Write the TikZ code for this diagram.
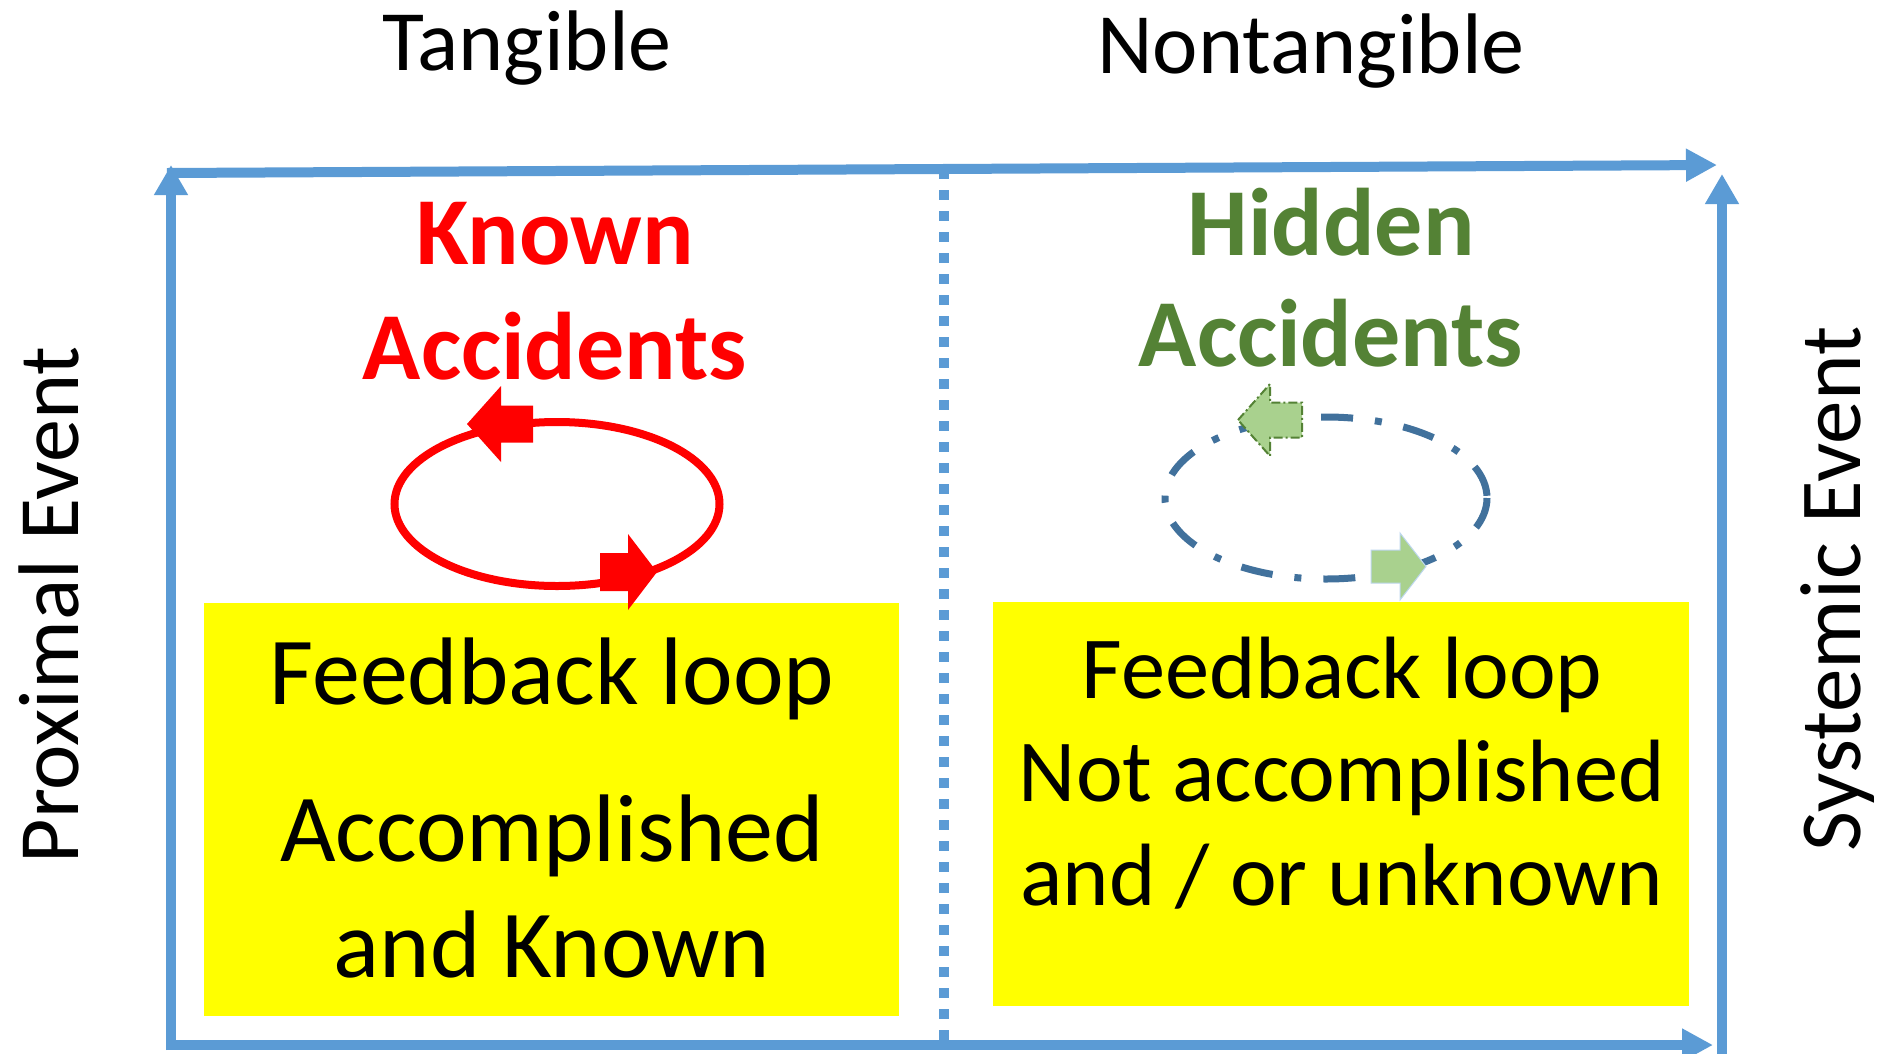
\documentclass[tikz,border=0pt]{standalone}
\usepackage{fontspec}
\setmainfont{Carlito}
\usetikzlibrary{arrows.meta}
\definecolor{frameblue}{HTML}{5B9BD5}
\definecolor{loopblue}{HTML}{41719C}
\definecolor{hidgreen}{HTML}{548235}
\definecolor{lightgreen}{HTML}{A9D18E}
\definecolor{paleblue}{HTML}{BDD7EE}
\definecolor{boxyellow}{HTML}{FFFF00}
\begin{document}
\begin{tikzpicture}[x=1pt,y=-1pt,
  frameline/.style={line width=10pt, draw=frameblue},
  hhead/.style={-{Triangle[length=31pt,width=31pt]}},
  vhead/.style={-{Triangle[length=30pt,width=32pt]}},
  head/.style={anchor=base, font=\fontsize{86}{100}\selectfont},
  title/.style={anchor=base, font=\fontsize{96}{114}\bfseries\selectfont},
  boxtext/.style={anchor=base, font=\fontsize{96}{114}\selectfont},
  boxtextr/.style={anchor=base, font=\fontsize{88.5}{104}\selectfont},
  ybox/.style={fill=boxyellow, draw=none}
]
\useasboundingbox (0,0) rectangle (1880,1053);
\fill[white] (0,0) rectangle (1880,1053);

% yellow boxes
\fill[ybox] (204,603) rectangle (899,1016);
\fill[ybox] (993,602) rectangle (1689,1006);

% frame coordinates
\coordinate (lb) at (171,1050);
\coordinate (lt) at (171,165);
\coordinate (tl) at (167,173);
\coordinate (tr) at (1717,165);
\coordinate (bl) at (166,1045);
\coordinate (br) at (1713,1045);
\coordinate (rb) at (1722,1060);
\coordinate (rt) at (1722,174);
\coordinate (dt) at (944,169);
\coordinate (db) at (944,1040);

% dotted divider
\draw[draw=frameblue, line width=10pt, dash pattern=on 10pt off 11pt] (dt) -- (db);

% frame arrows
\draw[frameline, hhead] (tl) -- (tr);
\draw[frameline, hhead] (bl) -- (br);
\draw[frameline, vhead] (lb) -- (lt);
\draw[frameline, vhead] (rb) -- (rt);

% headings
\node[head] (tangible) at (527,70) {Tangible};
\node[head] (nontangible) at (1311,73) {Nontangible};
\node[head, rotate=90] (proximal) at (78,605) {Proximal Event};
\node[head, font=\fontsize{87}{100}\selectfont, rotate=90] (systemic) at (1860,589) {Systemic Event};

% titles
\node[title, text=red] (known) at (555,264) {Known};
\node[title, text=red] (acc1) at (555,379) {Accidents};
\node[title, text=hidgreen] (hidden) at (1331,255) {Hidden};
\node[title, text=hidgreen] (acc2) at (1331,366) {Accidents};

% left loop
\coordinate (c1) at (557,504);
\draw[red, line width=8pt] (c1) ellipse [x radius=162.5, y radius=82];
\fill[red] (467,424) -- (501,386) -- (501,405.5) -- (533,405.5) -- (533,442.5)
  -- (501,442.5) -- (501,462) -- cycle;
\fill[red] (657,572) -- (628,534) -- (628,553) -- (600,553) -- (600,591)
  -- (628,591) -- (628,610) -- cycle;

% right loop
\coordinate (c2) at (1326,498);
\draw[loopblue, line width=7pt, dash pattern=on 32pt off 22pt on 7pt off 22pt]
  (c2) ellipse [x radius=161, y radius=81];
\filldraw[fill=lightgreen, draw=hidgreen, line width=2pt,
  dash pattern=on 9pt off 3pt on 2pt off 3pt]
  (1238,420) -- (1270,384) -- (1270,402.5) -- (1302,402.5) -- (1302,437.5)
  -- (1270,437.5) -- (1270,456) -- cycle;
\filldraw[fill=lightgreen, draw=paleblue, line width=1pt]
  (1426,566.5) -- (1400,533) -- (1400,550) -- (1371,550) -- (1371,583)
  -- (1400,583) -- (1400,600) -- cycle;

% box texts
\node[boxtext] (fl1) at (552,704) {Feedback loop};
\node[boxtext] (ac1) at (552,861) {Accomplished};
\node[boxtext] (ak1) at (552,977) {and Known};
\node[boxtextr] (fl2) at (1342,698) {Feedback loop};
\node[boxtextr] (na2) at (1342,801) {Not accomplished};
\node[boxtextr] (un2) at (1342,905) {and / or unknown};
\end{tikzpicture}
\end{document}
